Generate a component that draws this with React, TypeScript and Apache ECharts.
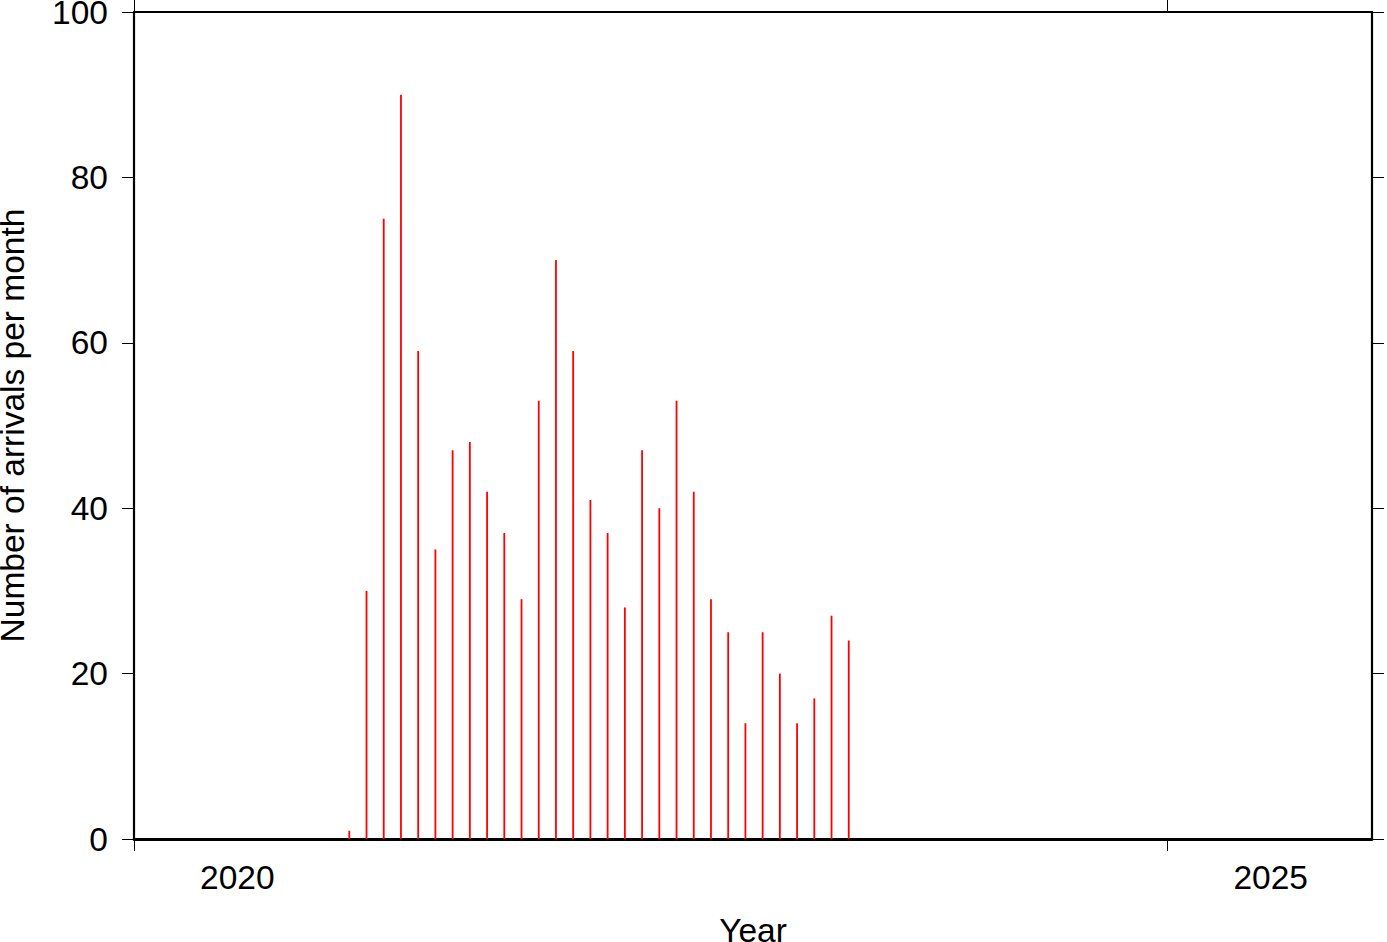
import React, { useEffect, useRef } from "react";
import * as echarts from "echarts";

const months: string[] = [
  "2021-01", "2021-02", "2021-03", "2021-04", "2021-05", "2021-06",
  "2021-07", "2021-08", "2021-09", "2021-10", "2021-11", "2021-12",
  "2022-01", "2022-02", "2022-03", "2022-04", "2022-05", "2022-06",
  "2022-07", "2022-08", "2022-09", "2022-10", "2022-11", "2022-12",
  "2023-01", "2023-02", "2023-03", "2023-04", "2023-05", "2023-06",
];
const arrivals: number[] = [
  1, 30, 75, 90, 59, 35, 47, 48, 42, 37, 29, 53,
  70, 59, 41, 37, 28, 47, 40, 53, 42, 29, 25, 14,
  25, 20, 14, 17, 27, 24,
];
const yearTicks: number[] = [2020, 2025];
const yearLabels: number[] = [2020, 2025];

const FONT = "Liberation Sans, Arial, Helvetica, sans-serif";
const FS = 33.5;

function toDecimalYear(m: string): number {
  const [y, mo] = m.split("-").map(Number);
  return y + (mo - 0.5) / 12;
}

export default function App() {
  const ref = useRef<HTMLDivElement>(null);
  useEffect(() => {
    if (!ref.current) return;
    const chart = echarts.init(ref.current, null, { renderer: "svg" });
    const data = months.map((m, i) => [toDecimalYear(m), arrivals[i]]);
    const axisLine = { show: true, lineStyle: { color: "#000", width: 2.2 } };
    const tickStyle = { color: "#000", width: 1 };
    chart.setOption({
      animation: false,
      backgroundColor: "#fff",
      grid: {
        left: 134,
        top: 12,
        right: 15,
        bottom: 103,
        containLabel: false,
        outerBoundsMode: "none",
      },
      xAxis: [
        {
          type: "value",
          position: "bottom",
          min: 2020,
          max: 2025.99,
          axisLine: { show: true, onZero: false, lineStyle: { color: "#000", width: 2.8 } },
          axisTick: { show: true, inside: false, length: 12, lineStyle: tickStyle, customValues: yearTicks },
          axisLabel: {
            show: true,
            customValues: yearLabels.map((y) => y + 0.5),
            formatter: (v: number) => String(Math.floor(v)),
            fontSize: FS,
            fontFamily: FONT,
            color: "#000",
            margin: 21,
          },
          splitLine: { show: false },
          name: "Year",
          nameLocation: "middle",
          nameGap: 74,
          nameTextStyle: { fontSize: FS, fontFamily: FONT, color: "#000" },
        },
        {
          type: "value",
          position: "top",
          min: 2020,
          max: 2025.99,
          axisLine: { ...axisLine, onZero: false },
          axisTick: { show: true, inside: false, length: 12, lineStyle: tickStyle, customValues: yearTicks },
          axisLabel: { show: false },
          splitLine: { show: false },
        },
      ],
      yAxis: [
        {
          type: "value",
          position: "left",
          min: 0,
          max: 100,
          interval: 20,
          axisLine: { ...axisLine, onZero: false },
          axisTick: { show: true, inside: false, length: 12, lineStyle: tickStyle },
          axisLabel: { fontSize: FS, fontFamily: FONT, color: "#000", margin: 26 },
          splitLine: { show: false },
          name: "Number of arrivals per month",
          nameLocation: "middle",
          nameGap: 105,
          nameTextStyle: { fontSize: FS, fontFamily: FONT, color: "#000" },
        },
        {
          type: "value",
          position: "right",
          min: 0,
          max: 100,
          interval: 20,
          axisLine: { ...axisLine, onZero: false },
          axisTick: { show: true, inside: false, length: 12, lineStyle: tickStyle },
          axisLabel: { show: false },
          splitLine: { show: false },
        },
      ],
      series: [
        {
          type: "bar",
          xAxisIndex: 0,
          yAxisIndex: 0,
          data,
          barWidth: 1.8,
          itemStyle: { color: "#ff0000" },
          z: 1,
        },
      ],
    });
    return () => chart.dispose();
  }, []);
  return (
    <div
      ref={ref}
      style={{ position: "absolute", left: 0, top: 0, width: 1387, height: 942 }}
    />
  );
}
